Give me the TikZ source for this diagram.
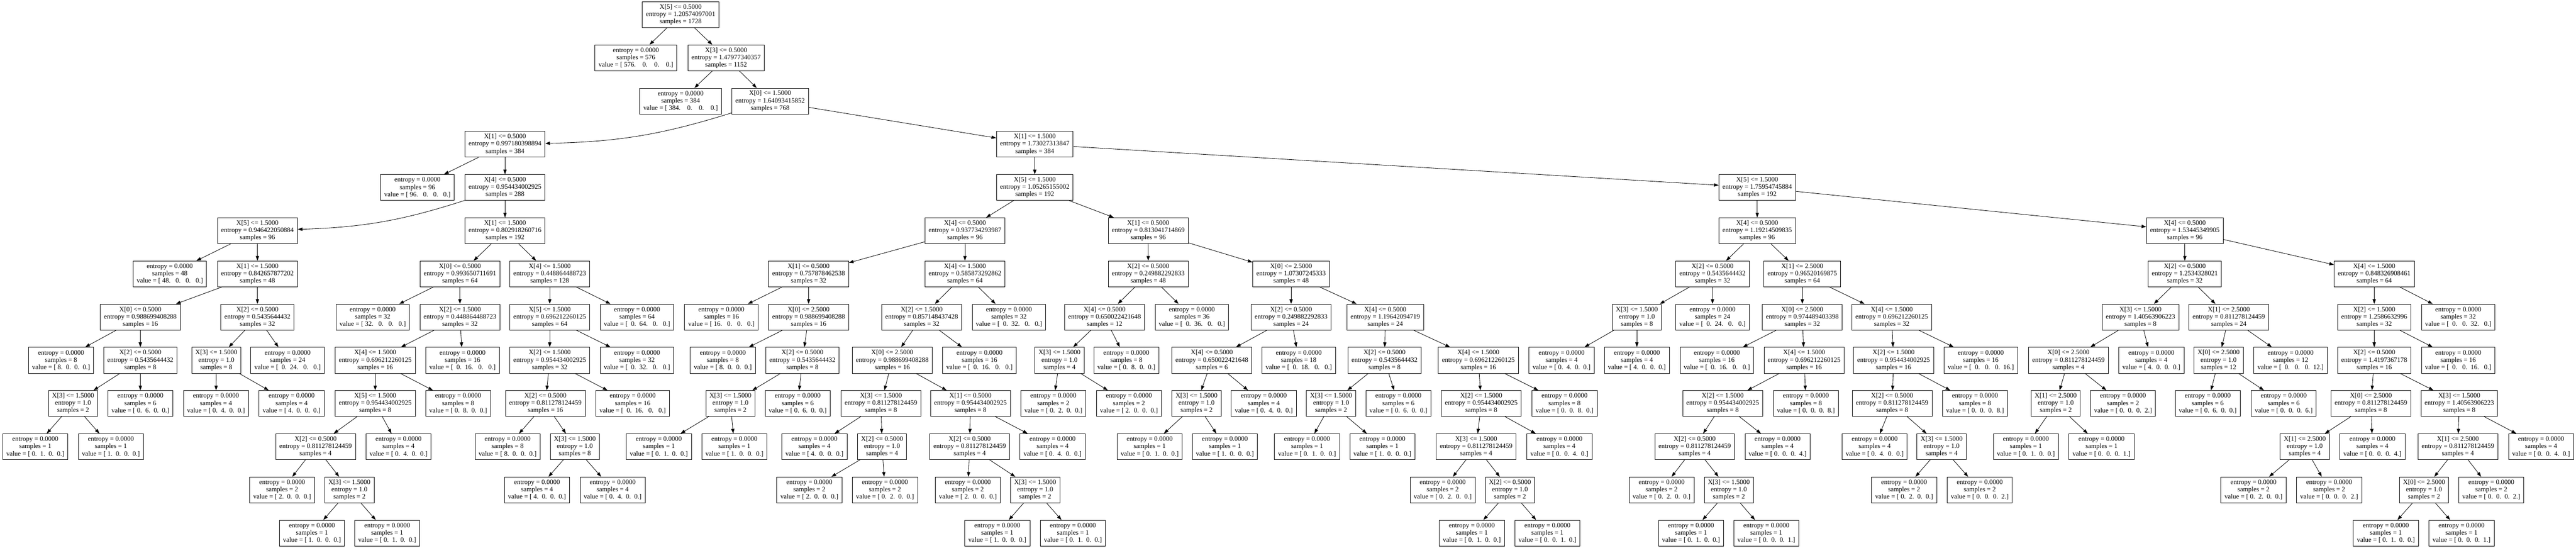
\documentclass[tikz,border=0pt]{standalone}
\usepackage{fontspec}
\setmainfont{Liberation Serif}
\usepackage{tikz}
\usetikzlibrary{arrows.meta}
\def\levelsep{118.75pt}
\newcommand{\splitlabel}[4]{X[#1] <= #2\\entropy = #3\\samples = #4}
\newcommand{\leaflabel}[2]{entropy = 0.0000\\samples = #1\\value = [#2]}

\begin{document}
\begin{tikzpicture}[->,>={Triangle[length=13pt,width=9pt]},line width=1.2pt,x=1pt,y=-\levelsep]
    \tikzstyle{tree node}=[draw,rectangle,align=center,inner xsep=10pt,inner ysep=3pt,minimum height=71pt,font=\fontsize{18.4}{20.1}\selectfont]

    \fill[white,-] (0,-0.3394) rectangle (7085,12.334);
    \useasboundingbox (0,-0.3394) rectangle (7085,12.334);

    % Draw the top of the tree
    \node[tree node] (N-0) at (1872,0) {\splitlabel{5}{0.5000}{1.20574097001}{1728}};
    \node[tree node] (N-1) at (1749,1) {\leaflabel{576}{~576.~~~~0.~~~~0.~~~~0.}};
    \node[tree node] (N-2) at (1997,1) {\splitlabel{3}{0.5000}{1.47977340357}{1152}};
    \node[tree node] (N-3) at (1872,2) {\leaflabel{384}{~384.~~~~0.~~~~0.~~~~0.}};
    \node[tree node] (N-4) at (2118,2) {\splitlabel{0}{1.5000}{1.64093415852}{768}};

    % Draw the left subtree
    \node[tree node] (N-5) at (1389,3) {\splitlabel{1}{0.5000}{0.997180398894}{384}};
    \node[tree node] (N-6) at (1148,4) {\leaflabel{96}{~96.~~~0.~~~0.~~~0.}};
    \node[tree node] (N-7) at (1389,4) {\splitlabel{4}{0.5000}{0.954434002925}{288}};
    \node[tree node] (N-8) at (708,5) {\splitlabel{5}{1.5000}{0.946422050884}{96}};
    \node[tree node] (N-9) at (467,6) {\leaflabel{48}{~48.~~~0.~~~0.~~~0.}};
    \node[tree node] (N-10) at (708,6) {\splitlabel{1}{1.5000}{0.842657877202}{48}};
    \node[tree node] (N-11) at (386,7) {\splitlabel{0}{0.5000}{0.988699408288}{16}};
    \node[tree node] (N-12) at (168,8) {\leaflabel{8}{~8.~~0.~~0.~~0.}};
    \node[tree node] (N-13) at (386,8) {\splitlabel{2}{0.5000}{0.5435644432}{8}};
    \node[tree node] (N-14) at (201,9) {\splitlabel{3}{1.5000}{1.0}{2}};
    \node[tree node] (N-15) at (97,10) {\leaflabel{1}{~0.~~1.~~0.~~0.}};
    \node[tree node] (N-16) at (305,10) {\leaflabel{1}{~1.~~0.~~0.~~0.}};
    \node[tree node] (N-17) at (386,9) {\leaflabel{6}{~0.~~6.~~0.~~0.}};
    \node[tree node] (N-18) at (708,7) {\splitlabel{2}{0.5000}{0.5435644432}{32}};
    \node[tree node] (N-19) at (595,8) {\splitlabel{3}{1.5000}{1.0}{8}};
    \node[tree node] (N-20) at (594,9) {\leaflabel{4}{~0.~~4.~~0.~~0.}};
    \node[tree node] (N-21) at (802,9) {\leaflabel{4}{~4.~~0.~~0.~~0.}};
    \node[tree node] (N-22) at (791,8) {\leaflabel{24}{~~0.~~24.~~~0.~~~0.}};
    \node[tree node] (N-23) at (1389,5) {\splitlabel{1}{1.5000}{0.802918260716}{192}};
    \node[tree node] (N-24) at (1265,6) {\splitlabel{0}{0.5000}{0.993650711691}{64}};
    \node[tree node] (N-25) at (1025,7) {\leaflabel{32}{~32.~~~0.~~~0.~~~0.}};
    \node[tree node] (N-26) at (1265,7) {\splitlabel{2}{1.5000}{0.448864488723}{32}};
    \node[tree node] (N-27) at (1032,8) {\splitlabel{4}{1.5000}{0.696212260125}{16}};
    \node[tree node] (N-28) at (1032,9) {\splitlabel{5}{1.5000}{0.954434002925}{8}};
    \node[tree node] (N-29) at (868,10) {\splitlabel{2}{0.5000}{0.811278124459}{4}};
    \node[tree node] (N-30) at (776,11) {\leaflabel{2}{~2.~~0.~~0.~~0.}};
    \node[tree node] (N-31) at (961,11) {\splitlabel{3}{1.5000}{1.0}{2}};
    \node[tree node] (N-32) at (858,12) {\leaflabel{1}{~1.~~0.~~0.~~0.}};
    \node[tree node] (N-33) at (1065,12) {\leaflabel{1}{~0.~~1.~~0.~~0.}};
    \node[tree node] (N-34) at (1096,10) {\leaflabel{4}{~0.~~4.~~0.~~0.}};
    \node[tree node] (N-35) at (1260,9) {\leaflabel{8}{~0.~~8.~~0.~~0.}};
    \node[tree node] (N-36) at (1272,8) {\leaflabel{16}{~~0.~~16.~~~0.~~~0.}};
    \node[tree node] (N-37) at (1512,6) {\splitlabel{4}{1.5000}{0.448864488723}{128}};
    \node[tree node] (N-38) at (1512,7) {\splitlabel{5}{1.5000}{0.696212260125}{64}};
    \node[tree node] (N-39) at (1512,8) {\splitlabel{2}{1.5000}{0.954434002925}{32}};
    \node[tree node] (N-40) at (1500,9) {\splitlabel{2}{0.5000}{0.811278124459}{16}};
    \node[tree node] (N-41) at (1396,10) {\leaflabel{8}{~8.~~0.~~0.~~0.}};
    \node[tree node] (N-42) at (1581,10) {\splitlabel{3}{1.5000}{1.0}{8}};
    \node[tree node] (N-43) at (1477,11) {\leaflabel{4}{~4.~~0.~~0.~~0.}};
    \node[tree node] (N-44) at (1685,11) {\leaflabel{4}{~0.~~4.~~0.~~0.}};
    \node[tree node] (N-45) at (1740,9) {\leaflabel{16}{~~0.~~16.~~~0.~~~0.}};
    \node[tree node] (N-46) at (1752,8) {\leaflabel{32}{~~0.~~32.~~~0.~~~0.}};
    \node[tree node] (N-47) at (1752,7) {\leaflabel{64}{~~0.~~64.~~~0.~~~0.}};

    % Draw the middle subtree
    \node[tree node] (N-48) at (2846,3) {\splitlabel{1}{1.5000}{1.73027313847}{384}};
    \node[tree node] (N-49) at (2846,4) {\splitlabel{5}{1.5000}{1.05265155002}{192}};
    \node[tree node] (N-50) at (2654,5) {\splitlabel{4}{0.5000}{0.937734293987}{96}};
    \node[tree node] (N-51) at (2224,6) {\splitlabel{1}{0.5000}{0.757878462538}{32}};
    \node[tree node] (N-52) at (1984,7) {\leaflabel{16}{~16.~~~0.~~~0.~~~0.}};
    \node[tree node] (N-53) at (2224,7) {\splitlabel{0}{2.5000}{0.988699408288}{16}};
    \node[tree node] (N-54) at (1988,8) {\leaflabel{8}{~8.~~0.~~0.~~0.}};
    \node[tree node] (N-55) at (2207,8) {\splitlabel{2}{0.5000}{0.5435644432}{8}};
    \node[tree node] (N-56) at (2009,9) {\splitlabel{3}{1.5000}{1.0}{2}};
    \node[tree node] (N-57) at (1812,10) {\leaflabel{1}{~0.~~1.~~0.~~0.}};
    \node[tree node] (N-58) at (2020,10) {\leaflabel{1}{~1.~~0.~~0.~~0.}};
    \node[tree node] (N-59) at (2194,9) {\leaflabel{6}{~0.~~6.~~0.~~0.}};
    \node[tree node] (N-60) at (2654,6) {\splitlabel{4}{1.5000}{0.585873292862}{64}};
    \node[tree node] (N-61) at (2535,7) {\splitlabel{2}{1.5000}{0.857148437428}{32}};
    \node[tree node] (N-62) at (2454,8) {\splitlabel{0}{2.5000}{0.988699408288}{16}};
    \node[tree node] (N-63) at (2423,9) {\splitlabel{3}{1.5000}{0.811278124459}{8}};
    \node[tree node] (N-64) at (2240,10) {\leaflabel{4}{~4.~~0.~~0.~~0.}};
    \node[tree node] (N-65) at (2426,10) {\splitlabel{2}{0.5000}{1.0}{4}};
    \node[tree node] (N-66) at (2226,11) {\leaflabel{2}{~2.~~0.~~0.~~0.}};
    \node[tree node] (N-67) at (2434,11) {\leaflabel{2}{~0.~~2.~~0.~~0.}};
    \node[tree node] (N-68) at (2669,9) {\splitlabel{1}{0.5000}{0.954434002925}{8}};
    \node[tree node] (N-69) at (2667,10) {\splitlabel{2}{0.5000}{0.811278124459}{4}};
    \node[tree node] (N-70) at (2662,11) {\leaflabel{2}{~2.~~0.~~0.~~0.}};
    \node[tree node] (N-71) at (2847,11) {\splitlabel{3}{1.5000}{1.0}{2}};
    \node[tree node] (N-72) at (2743,12) {\leaflabel{1}{~1.~~0.~~0.~~0.}};
    \node[tree node] (N-73) at (2951,12) {\leaflabel{1}{~0.~~1.~~0.~~0.}};
    \node[tree node] (N-74) at (2895,10) {\leaflabel{4}{~0.~~4.~~0.~~0.}};
    \node[tree node] (N-75) at (2694,8) {\leaflabel{16}{~~0.~~16.~~~0.~~~0.}};
    \node[tree node] (N-76) at (2775,7) {\leaflabel{32}{~~0.~~32.~~~0.~~~0.}};
    \node[tree node] (N-77) at (3158,5) {\splitlabel{1}{0.5000}{0.813041714869}{96}};
    \node[tree node] (N-78) at (3158,6) {\splitlabel{2}{0.5000}{0.249882292833}{48}};
    \node[tree node] (N-79) at (3038,7) {\splitlabel{4}{0.5000}{0.650022421648}{12}};
    \node[tree node] (N-80) at (2914,8) {\splitlabel{3}{1.5000}{1.0}{4}};
    \node[tree node] (N-81) at (2897,9) {\leaflabel{2}{~0.~~2.~~0.~~0.}};
    \node[tree node] (N-82) at (3105,9) {\leaflabel{2}{~2.~~0.~~0.~~0.}};
    \node[tree node] (N-83) at (3098,8) {\leaflabel{8}{~0.~~8.~~0.~~0.}};
    \node[tree node] (N-84) at (3278,7) {\leaflabel{36}{~~0.~~36.~~~0.~~~0.}};
    \node[tree node] (N-85) at (3551,6) {\splitlabel{0}{2.5000}{1.07307245333}{48}};
    \node[tree node] (N-86) at (3551,7) {\splitlabel{2}{0.5000}{0.249882292833}{24}};
    \node[tree node] (N-87) at (3333,8) {\splitlabel{4}{0.5000}{0.650022421648}{6}};
    \node[tree node] (N-88) at (3291,9) {\splitlabel{3}{1.5000}{1.0}{2}};
    \node[tree node] (N-89) at (3162,10) {\leaflabel{1}{~0.~~1.~~0.~~0.}};
    \node[tree node] (N-90) at (3369,10) {\leaflabel{1}{~1.~~0.~~0.~~0.}};
    \node[tree node] (N-91) at (3476,9) {\leaflabel{4}{~0.~~4.~~0.~~0.}};
    \node[tree node] (N-92) at (3572,8) {\leaflabel{18}{~~0.~~18.~~~0.~~~0.}};
    \node[tree node] (N-93) at (3810,7) {\splitlabel{4}{0.5000}{1.19642094719}{24}};
    \node[tree node] (N-94) at (3808,8) {\splitlabel{2}{0.5000}{0.5435644432}{8}};
    \node[tree node] (N-95) at (3661,9) {\splitlabel{3}{1.5000}{1.0}{2}};
    \node[tree node] (N-96) at (3595,10) {\leaflabel{1}{~0.~~1.~~0.~~0.}};
    \node[tree node] (N-97) at (3802,10) {\leaflabel{1}{~1.~~0.~~0.~~0.}};
    \node[tree node] (N-98) at (3846,9) {\leaflabel{6}{~0.~~6.~~0.~~0.}};
    \node[tree node] (N-99) at (4066,8) {\splitlabel{4}{1.5000}{0.696212260125}{16}};
    \node[tree node] (N-100) at (4074,9) {\splitlabel{2}{1.5000}{0.954434002925}{8}};
    \node[tree node] (N-101) at (4060,10) {\splitlabel{3}{1.5000}{0.811278124459}{4}};
    \node[tree node] (N-102) at (3968,11) {\leaflabel{2}{~0.~~2.~~0.~~0.}};
    \node[tree node] (N-103) at (4153,11) {\splitlabel{2}{0.5000}{1.0}{2}};
    \node[tree node] (N-104) at (4048,12) {\leaflabel{1}{~0.~~1.~~0.~~0.}};
    \node[tree node] (N-105) at (4256,12) {\leaflabel{1}{~0.~~0.~~1.~~0.}};
    \node[tree node] (N-106) at (4289,10) {\leaflabel{4}{~0.~~0.~~4.~~0.}};
    \node[tree node] (N-107) at (4303,9) {\leaflabel{8}{~0.~~0.~~8.~~0.}};

    % Draw the right subtree
    \node[tree node] (N-108) at (4833,4) {\splitlabel{5}{1.5000}{1.75954745884}{192}};
    \node[tree node] (N-109) at (4833,5) {\splitlabel{4}{0.5000}{1.19214509835}{96}};
    \node[tree node] (N-110) at (4710,6) {\splitlabel{2}{0.5000}{0.5435644432}{32}};
    \node[tree node] (N-111) at (4502,7) {\splitlabel{3}{1.5000}{1.0}{8}};
    \node[tree node] (N-112) at (4295,8) {\leaflabel{4}{~0.~~4.~~0.~~0.}};
    \node[tree node] (N-113) at (4502,8) {\leaflabel{4}{~4.~~0.~~0.~~0.}};
    \node[tree node] (N-114) at (4710,7) {\leaflabel{24}{~~0.~~24.~~~0.~~~0.}};
    \node[tree node] (N-115) at (4957,6) {\splitlabel{1}{2.5000}{0.96520169875}{64}};
    \node[tree node] (N-116) at (4957,7) {\splitlabel{0}{2.5000}{0.974489403398}{32}};
    \node[tree node] (N-117) at (4722,8) {\leaflabel{16}{~~0.~~16.~~~0.~~~0.}};
    \node[tree node] (N-118) at (4962,8) {\splitlabel{4}{1.5000}{0.696212260125}{16}};
    \node[tree node] (N-119) at (4738,9) {\splitlabel{2}{1.5000}{0.954434002925}{8}};
    \node[tree node] (N-120) at (4661,10) {\splitlabel{2}{0.5000}{0.811278124459}{4}};
    \node[tree node] (N-121) at (4570,11) {\leaflabel{2}{~0.~~2.~~0.~~0.}};
    \node[tree node] (N-122) at (4755,11) {\splitlabel{3}{1.5000}{1.0}{2}};
    \node[tree node] (N-123) at (4651,12) {\leaflabel{1}{~0.~~1.~~0.~~0.}};
    \node[tree node] (N-124) at (4858,12) {\leaflabel{1}{~0.~~0.~~0.~~1.}};
    \node[tree node] (N-125) at (4889,10) {\leaflabel{4}{~0.~~0.~~0.~~4.}};
    \node[tree node] (N-126) at (4967,9) {\leaflabel{8}{~0.~~0.~~0.~~8.}};
    \node[tree node] (N-127) at (5203,7) {\splitlabel{4}{1.5000}{0.696212260125}{32}};
    \node[tree node] (N-128) at (5208,8) {\splitlabel{2}{1.5000}{0.954434002925}{16}};
    \node[tree node] (N-129) at (5204,9) {\splitlabel{2}{0.5000}{0.811278124459}{8}};
    \node[tree node] (N-130) at (5156,10) {\leaflabel{4}{~0.~~4.~~0.~~0.}};
    \node[tree node] (N-131) at (5340,10) {\splitlabel{3}{1.5000}{1.0}{4}};
    \node[tree node] (N-132) at (5237,11) {\leaflabel{2}{~0.~~2.~~0.~~0.}};
    \node[tree node] (N-133) at (5445,11) {\leaflabel{2}{~0.~~0.~~0.~~2.}};
    \node[tree node] (N-134) at (5432,9) {\leaflabel{8}{~0.~~0.~~0.~~8.}};
    \node[tree node] (N-135) at (5448,8) {\leaflabel{16}{~~0.~~~0.~~~0.~~16.}};
    \node[tree node] (N-136) at (6009,5) {\splitlabel{4}{0.5000}{1.53445349905}{96}};
    \node[tree node] (N-137) at (6009,6) {\splitlabel{2}{0.5000}{1.2534328021}{32}};
    \node[tree node] (N-138) at (5887,7) {\splitlabel{3}{1.5000}{1.40563906223}{8}};
    \node[tree node] (N-139) at (5689,8) {\splitlabel{0}{2.5000}{0.811278124459}{4}};
    \node[tree node] (N-140) at (5654,9) {\splitlabel{1}{2.5000}{1.0}{2}};
    \node[tree node] (N-141) at (5572,10) {\leaflabel{1}{~0.~~1.~~0.~~0.}};
    \node[tree node] (N-142) at (5780,10) {\leaflabel{1}{~0.~~0.~~0.~~1.}};
    \node[tree node] (N-143) at (5839,9) {\leaflabel{2}{~0.~~0.~~0.~~2.}};
    \node[tree node] (N-144) at (5917,8) {\leaflabel{4}{~4.~~0.~~0.~~0.}};
    \node[tree node] (N-145) at (6130,7) {\splitlabel{1}{2.5000}{0.811278124459}{24}};
    \node[tree node] (N-146) at (6102,8) {\splitlabel{0}{2.5000}{1.0}{12}};
    \node[tree node] (N-147) at (6072,9) {\leaflabel{6}{~0.~~6.~~0.~~0.}};
    \node[tree node] (N-148) at (6281,9) {\leaflabel{6}{~0.~~0.~~0.~~6.}};
    \node[tree node] (N-149) at (6300,8) {\leaflabel{12}{~~0.~~~0.~~~0.~~12.}};
    \node[tree node] (N-150) at (6530,6) {\splitlabel{4}{1.5000}{0.848326908461}{64}};
    \node[tree node] (N-151) at (6530,7) {\splitlabel{2}{1.5000}{1.2586632996}{32}};
    \node[tree node] (N-152) at (6530,8) {\splitlabel{2}{0.5000}{1.4197367178}{16}};
    \node[tree node] (N-153) at (6521,9) {\splitlabel{0}{2.5000}{0.811278124459}{8}};
    \node[tree node] (N-154) at (6339,10) {\splitlabel{1}{2.5000}{1.0}{4}};
    \node[tree node] (N-155) at (6198,11) {\leaflabel{2}{~0.~~2.~~0.~~0.}};
    \node[tree node] (N-156) at (6406,11) {\leaflabel{2}{~0.~~0.~~0.~~2.}};
    \node[tree node] (N-157) at (6525,10) {\leaflabel{4}{~0.~~0.~~0.~~4.}};
    \node[tree node] (N-158) at (6764,9) {\splitlabel{3}{1.5000}{1.40563906223}{8}};
    \node[tree node] (N-159) at (6760,10) {\splitlabel{1}{2.5000}{0.811278124459}{4}};
    \node[tree node] (N-160) at (6667,11) {\splitlabel{0}{2.5000}{1.0}{2}};
    \node[tree node] (N-161) at (6562,12) {\leaflabel{1}{~0.~~1.~~0.~~0.}};
    \node[tree node] (N-162) at (6770,12) {\leaflabel{1}{~0.~~0.~~0.~~1.}};
    \node[tree node] (N-163) at (6852,11) {\leaflabel{2}{~0.~~0.~~0.~~2.}};
    \node[tree node] (N-164) at (6989,10) {\leaflabel{4}{~0.~~0.~~4.~~0.}};
    \node[tree node] (N-165) at (6761,8) {\leaflabel{16}{~~0.~~~0.~~16.~~~0.}};
    \node[tree node] (N-166) at (6761,7) {\leaflabel{32}{~~0.~~~0.~~32.~~~0.}};

    % Connect every node with its children
    \foreach \source/\dest in {0/1,0/2,2/3,2/4,4/48,5/6,5/7,7/23,8/9,8/10,10/11,10/18,
        11/12,11/13,13/14,13/17,14/15,14/16,18/19,18/22,19/20,19/21,23/24,23/37,
        24/25,24/26,26/27,26/36,27/28,27/35,28/29,28/34,29/30,29/31,31/32,31/33,
        37/38,37/47,38/39,38/46,39/40,39/45,40/41,40/42,42/43,42/44}
        \path (N-\source) edge (N-\dest);
    \foreach \source/\dest in {48/49,48/108,49/50,49/77,50/51,50/60,51/52,51/53,
        53/54,53/55,55/56,55/59,56/57,56/58,60/61,60/76,61/62,61/75,62/63,62/68,
        63/64,63/65,65/66,65/67,68/69,68/74,69/70,69/71,71/72,71/73,77/78,77/85,
        78/79,78/84,79/80,79/83,80/81,80/82,85/86,85/93,86/87,86/92,87/88,87/91,
        88/89,88/90,93/94,93/99,94/95,94/98,95/96,95/97,99/100,99/107,100/101,
        100/106,101/102,101/103,103/104,103/105}
        \path (N-\source) edge (N-\dest);
    \foreach \source/\dest in {108/109,108/136,109/110,109/115,110/111,110/114,
        111/112,111/113,115/116,115/127,116/117,116/118,118/119,118/126,119/120,
        119/125,120/121,120/122,122/123,122/124,127/128,127/135,128/129,128/134,
        129/130,129/131,131/132,131/133,136/137,136/150,137/138,137/145,138/139,
        138/144,139/140,139/143,140/141,140/142,145/146,145/149,146/147,146/148,
        150/151,150/166,151/152,151/165,152/153,152/158,153/154,153/157,154/155,
        154/156,158/159,158/164,159/160,159/163,160/161,160/162}
        \path (N-\source) edge (N-\dest);

    % The two long edges to the left bend a little
    \path (N-4) edge[bend left=8] (N-5);
    \path (N-7) edge[bend left=8] (N-8);
\end{tikzpicture}
\end{document}
